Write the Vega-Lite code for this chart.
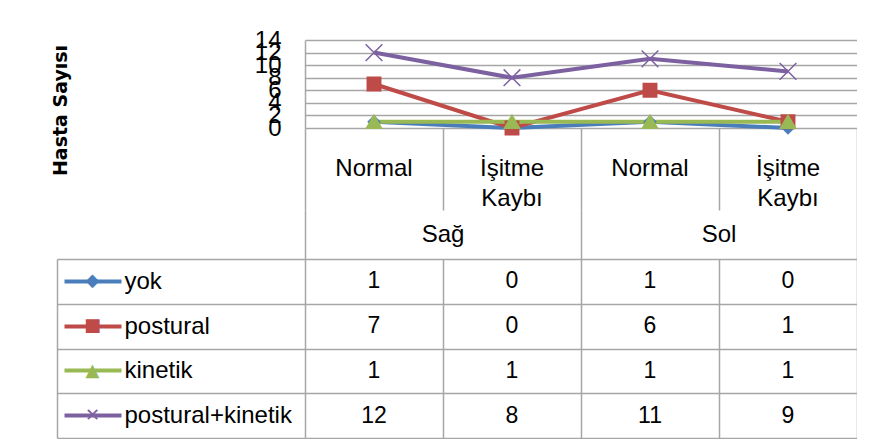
{
  "$schema": "https://vega.github.io/schema/vega-lite/v6.json",
  "background": "white",
  "padding": {"left": 50, "top": 28, "right": 0, "bottom": 0},
  "bounds": "flush",
  "spacing": 0,
  "config": {
    "view": {"stroke": null},
    "font": "Liberation Sans",
    "axis": {"labelColor": "#000", "titleColor": "#000", "gridColor": "#a6a6a6", "gridWidth": 1.5, "domainColor": "#a6a6a6", "domainWidth": 1.5, "tickColor": "#a6a6a6", "tickWidth": 1.5}
  },
  "datasets": {
    "t": [
      {"series": "yok", "side": "Sağ", "hearing": "Normal", "col": "Sağ|Normal", "value": 1},
      {"series": "yok", "side": "Sağ", "hearing": "İşitme Kaybı", "col": "Sağ|İşitme Kaybı", "value": 0},
      {"series": "yok", "side": "Sol", "hearing": "Normal", "col": "Sol|Normal", "value": 1},
      {"series": "yok", "side": "Sol", "hearing": "İşitme Kaybı", "col": "Sol|İşitme Kaybı", "value": 0},
      {"series": "postural", "side": "Sağ", "hearing": "Normal", "col": "Sağ|Normal", "value": 7},
      {"series": "postural", "side": "Sağ", "hearing": "İşitme Kaybı", "col": "Sağ|İşitme Kaybı", "value": 0},
      {"series": "postural", "side": "Sol", "hearing": "Normal", "col": "Sol|Normal", "value": 6},
      {"series": "postural", "side": "Sol", "hearing": "İşitme Kaybı", "col": "Sol|İşitme Kaybı", "value": 1},
      {"series": "kinetik", "side": "Sağ", "hearing": "Normal", "col": "Sağ|Normal", "value": 1},
      {"series": "kinetik", "side": "Sağ", "hearing": "İşitme Kaybı", "col": "Sağ|İşitme Kaybı", "value": 1},
      {"series": "kinetik", "side": "Sol", "hearing": "Normal", "col": "Sol|Normal", "value": 1},
      {"series": "kinetik", "side": "Sol", "hearing": "İşitme Kaybı", "col": "Sol|İşitme Kaybı", "value": 1},
      {"series": "postural+kinetik", "side": "Sağ", "hearing": "Normal", "col": "Sağ|Normal", "value": 12},
      {"series": "postural+kinetik", "side": "Sağ", "hearing": "İşitme Kaybı", "col": "Sağ|İşitme Kaybı", "value": 8},
      {"series": "postural+kinetik", "side": "Sol", "hearing": "Normal", "col": "Sol|Normal", "value": 11},
      {"series": "postural+kinetik", "side": "Sol", "hearing": "İşitme Kaybı", "col": "Sol|İşitme Kaybı", "value": 9}
    ]
  },
  "resolve": {"scale": {"x": "independent", "y": "independent", "color": "independent", "shape": "independent", "size": "independent", "stroke": "independent"}},
  "vconcat": [
    {
      "width": 552,
      "height": 88,
      "data": {"name": "t"},
      "encoding": {
        "x": {"field": "col", "type": "nominal", "sort": null, "scale": {"domain": ["Sağ|Normal", "Sağ|İşitme Kaybı", "Sol|Normal", "Sol|İşitme Kaybı"], "paddingInner": 0, "paddingOuter": 0}, "axis": null},
        "y": {"field": "value", "type": "quantitative", "scale": {"domain": [0, 14], "nice": false},
          "axis": {"values": [0, 2, 4, 6, 8, 10, 12, 14], "grid": true, "domain": true, "ticks": false, "labelFontSize": 24, "labelFont": "Liberation Sans", "labelPadding": 24, "labelOverlap": false, "labelFlush": false, "labelBound": false,
            "title": "Hasta Sayısı", "titleFont": "DejaVu Sans", "titleFontSize": 19, "titleFontWeight": "bold", "titleX": -245, "titleY": 70, "titleAngle": -90, "titleAlign": "center", "titleBaseline": "middle"}}
      },
      "layer": [
        {
          "mark": {"type": "line", "strokeWidth": 4},
          "encoding": {
            "color": {"field": "series", "type": "nominal", "scale": {"domain": ["yok", "postural", "kinetik", "postural+kinetik"], "range": ["#4a7ebb", "#be4b48", "#98b954", "#7d60a0"]}, "legend": null}
          }
        },
        {
          "mark": {"type": "point", "filled": true, "opacity": 1, "strokeWidth": 1.5},
          "encoding": {
            "color": {"field": "series", "type": "nominal", "scale": {"domain": ["yok", "postural", "kinetik", "postural+kinetik"], "range": ["#4a7ebb", "#be4b48", "#98b954", "#7d60a0"]}, "legend": null},
            "stroke": {"field": "series", "type": "nominal", "scale": {"domain": ["yok", "postural", "kinetik", "postural+kinetik"], "range": ["#4a7ebb", "#be4b48", "#98b954", "#7d60a0"]}, "legend": null},
            "shape": {"field": "series", "type": "nominal", "scale": {"domain": ["yok", "postural", "kinetik", "postural+kinetik"], "range": ["diamond", "square", "triangle-up", "M-1,-1L1,1M-1,1L1,-1"]}, "legend": null},
            "size": {"field": "series", "type": "nominal", "scale": {"domain": ["yok", "postural", "kinetik", "postural+kinetik"], "range": [130, 280, 230, 360]}, "legend": null}
          }
        }
      ]
    },
    {
      "width": 552,
      "height": 82,
      "data": {"name": "t"},
      "transform": [{"filter": "datum.series === 'yok'"}],
      "mark": {"type": "text", "fontSize": 24, "font": "Liberation Sans", "lineBreak": " ", "lineHeight": 30, "color": "#000", "baseline": "middle"},
      "encoding": {
        "x": {"field": "col", "type": "nominal", "sort": null, "scale": {"domain": ["Sağ|Normal", "Sağ|İşitme Kaybı", "Sol|Normal", "Sol|İşitme Kaybı"], "paddingInner": 0, "paddingOuter": 0},
          "axis": {"grid": true, "tickBand": "extent", "labels": false, "ticks": false, "domain": false, "title": null}},
        "text": {"field": "hearing"}
      }
    },
    {
      "width": 552,
      "height": 49,
      "data": {"name": "t"},
      "transform": [{"filter": "datum.series === 'yok' && datum.hearing === 'Normal'"}],
      "mark": {"type": "text", "fontSize": 24, "font": "Liberation Sans", "color": "#000", "baseline": "middle"},
      "encoding": {
        "x": {"field": "side", "type": "nominal", "sort": null, "scale": {"domain": ["Sağ", "Sol"], "paddingInner": 0, "paddingOuter": 0},
          "axis": {"grid": true, "tickBand": "extent", "labels": false, "ticks": false, "domain": false, "title": null}},
        "text": {"field": "side"}
      }
    },
    {
      "width": 552,
      "height": 179,
      "data": {"name": "t"},
      "encoding": {
        "x": {"field": "col", "type": "nominal", "sort": null, "scale": {"domain": ["Sağ|Normal", "Sağ|İşitme Kaybı", "Sol|Normal", "Sol|İşitme Kaybı"], "paddingInner": 0, "paddingOuter": 0},
          "axis": {"grid": true, "tickBand": "extent", "labels": false, "ticks": false, "domain": false, "title": null}},
        "text": {"field": "value"}
      },
      "layer": [
        {
          "mark": {"type": "text", "fontSize": 23, "font": "Liberation Sans", "color": "#000", "baseline": "middle"},
          "encoding": {
            "y": {"field": "series", "type": "nominal", "sort": null, "scale": {"domain": ["yok", "postural", "kinetik", "postural+kinetik"], "paddingInner": 0, "paddingOuter": 0},
              "axis": {"orient": "left", "tickBand": "extent", "grid": true, "ticks": true, "tickSize": 248, "domain": false, "labelAlign": "left", "labelBaseline": "middle", "labelPadding": -67, "labelFontSize": 24, "labelFont": "Liberation Sans", "title": null}}
          }
        },
        {
          "mark": {"type": "text", "opacity": 0},
          "encoding": {
            "y": {"field": "series", "type": "nominal", "sort": null, "scale": {"domain": ["yok", "postural", "kinetik", "postural+kinetik"], "paddingInner": 0, "paddingOuter": 0},
              "axis": {"orient": "left", "offset": 184, "grid": false, "ticks": true, "tickSize": 57, "tickWidth": 4,
                "tickColor": {"expr": "datum.value === 'yok' ? '#4a7ebb' : datum.value === 'postural' ? '#be4b48' : datum.value === 'kinetik' ? '#98b954' : '#7d60a0'"},
                "labelColor": {"expr": "datum.value === 'yok' ? '#4a7ebb' : datum.value === 'postural' ? '#be4b48' : datum.value === 'kinetik' ? '#98b954' : '#7d60a0'"},
                "labelExpr": "datum.value === 'yok' ? '◆' : datum.value === 'postural' ? '■' : datum.value === 'kinetik' ? '▲' : '✕'",
                "domain": false, "labelAlign": "center", "labelBaseline": "middle", "labelPadding": -28, "labelFontSize": 18, "labelFont": "DejaVu Sans", "title": null}}
          }
        },
        {
          "mark": {"type": "text", "opacity": 0},
          "encoding": {
            "y": {"field": "series", "type": "nominal", "sort": null, "scale": {"domain": ["yok", "postural", "kinetik", "postural+kinetik"], "paddingInner": 0, "paddingOuter": 0},
              "axis": {"orient": "left", "offset": 248, "grid": false, "ticks": false, "labels": false, "domain": true, "title": null}}
          }
        }
      ],
      "resolve": {"axis": {"y": "independent"}}
    }
  ]
}
